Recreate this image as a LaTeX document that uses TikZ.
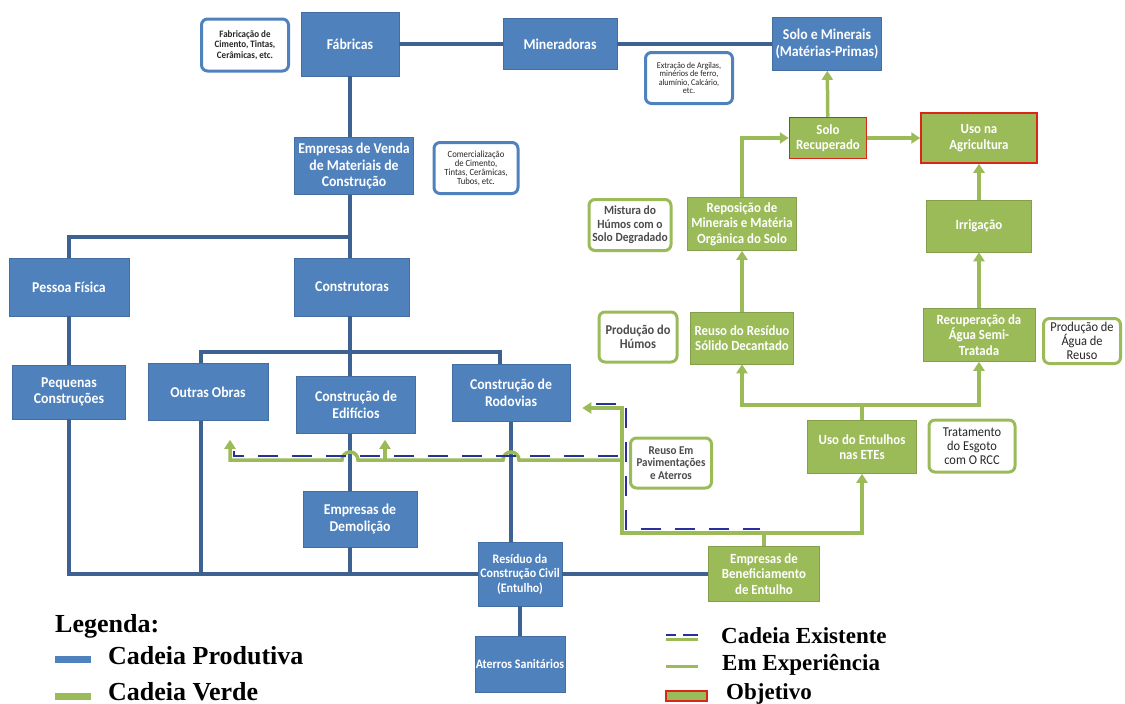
\documentclass[tikz,border=0pt]{standalone}
\usepackage{fontspec}
\setmainfont{Liberation Serif}
\newfontfamily\calib[FakeStretch=0.92]{Carlito}
\usepackage{tikz}
\usetikzlibrary{calc}
\usetikzlibrary{arrows.meta}
\usepackage{xcolor}
\definecolor{azul}{HTML}{4F81BD}
\definecolor{azulesc}{HTML}{3D6190}
\definecolor{verde}{HTML}{9BBB59}
\definecolor{marinho}{HTML}{28309A}
\definecolor{vermelho}{HTML}{D9251A}

\begin{document}
\begin{tikzpicture}[x=1pt, y=-1pt,
  prod/.style = {rectangle, fill=azul, draw=azul!85!black, line width=.6pt, text=white, align=center, inner sep=1pt, font=\calib\bfseries\fontsize{15}{16.5}\selectfont},
  verd/.style = {prod, fill=verde, draw=verde!85!black, font=\calib\bfseries\fontsize{14}{15.5}\selectfont},
  objetivo/.style = {verd, draw=vermelho, line width=1.5pt},
  notaaz/.style = {rectangle, rounded corners=6pt, draw=azul, line width=3pt, fill=white, text=black!85, align=center, inner sep=1pt, font=\calib\bfseries\fontsize{9.8}{10.5}\selectfont},
  notave/.style = {notaaz, draw=verde, text=black!70, font=\calib\bfseries\fontsize{13.5}{14}\selectfont},
  linha/.style = {azulesc, line width=4pt},
  fluxo/.style = {verde, line width=3.5pt},
  seta/.style = {fluxo, -{Triangle[length=9pt, width=11pt]}},
  existe/.style = {marinho, line width=2pt, dash pattern=on 20pt off 14pt},
  leg/.style = {anchor=base west, inner sep=0pt, font=\bfseries\fontsize{26}{28}\selectfont},
  legd/.style = {leg, font=\bfseries\fontsize{23}{25}\selectfont}
]

\useasboundingbox (0,0) rectangle (1125,704);

\node[prod, minimum width=98pt, minimum height=64pt] (fabricas) at (350,44) {Fábricas};
\node[prod, minimum width=114pt, minimum height=51pt] (mineradoras) at (560,44) {Mineradoras};
\node[prod, minimum width=109pt, minimum height=53pt] (solo) at (827,44) {Solo e Minerais\\(Matérias-Primas)};
\node[prod, minimum width=119pt, minimum height=57pt] (venda) at (354,166) {Empresas de Venda\\de Materiais de\\Construção};
\node[prod, minimum width=120pt, minimum height=58pt] (pessoa) at (69,287) {Pessoa Física};
\node[prod, minimum width=115pt, minimum height=58pt] (construtoras) at (352,287) {Construtoras};
\node[prod, minimum width=113pt, minimum height=54pt] (pequenas) at (69,392) {Pequenas\\Construções};
\node[prod, minimum width=120pt, minimum height=57pt] (outras) at (208,392) {Outras Obras};
\node[prod, minimum width=119pt, minimum height=57pt] (edificios) at (356,405) {Construção de\\Edifícios};
\node[prod, minimum width=118pt, minimum height=57pt] (rodovias) at (511,393) {Construção de\\Rodovias};
\node[prod, minimum width=114pt, minimum height=56pt] (demolicao) at (360,519) {Empresas de\\Demolição};
\node[prod, minimum width=84pt, minimum height=64pt, font=\calib\bfseries\fontsize{13}{14.5}\selectfont] (residuo) at (520,574) {Resíduo da\\Construção Civil\\(Entulho)};
\node[prod, minimum width=84pt, minimum height=56pt, font=\calib\bfseries\fontsize{13}{14.5}\selectfont] (aterros) at (520,664) {Aterros Sanitários};

\node[objetivo, minimum width=77pt, minimum height=41pt] (recuperado) at (828,138) {Solo\\Recuperado};
\node[objetivo, minimum width=116pt, minimum height=50pt] (agricultura) at (979,138) {Uso na\\Agricultura};
\node[verd, minimum width=105pt, minimum height=52pt] (irrigacao) at (979,226) {Irrigação};
\node[verd, minimum width=109pt, minimum height=53pt] (reposicao) at (742,224) {Reposição de\\Minerais e Matéria\\Orgânica do Solo};
\node[verd, minimum width=103pt, minimum height=52pt] (reuso) at (742,338) {Reuso do Resíduo\\Sólido Decantado};
\node[verd, minimum width=112pt, minimum height=53pt] (agua) at (979,335) {Recuperação da\\Água Semi-\\Tratada};
\node[verd, minimum width=109pt, minimum height=53pt] (entulhos) at (862,447) {Uso do Entulhos\\nas ETEs};
\node[verd, minimum width=111pt, minimum height=55pt] (beneficiamento) at (764,574) {Empresas de\\Beneficiamento\\de Entulho};

\node[notaaz, minimum width=87pt, minimum height=52pt] (fabnota) at (245,45) {Fabricação de\\Cimento, Tintas,\\Cerâmicas, etc.};
\node[notaaz, minimum width=87pt, minimum height=51pt, font=\calib\fontsize{8.8}{8.6}\selectfont] (extnota) at (689,78) {Extração de Argilas,\\minérios de ferro,\\alumínio, Calcário,\\etc.};
\node[notaaz, minimum width=84pt, minimum height=51pt, font=\calib\fontsize{9.4}{9}\selectfont] (comnota) at (476,168) {Comercialização\\de Cimento,\\Tintas, Cerâmicas,\\Tubos, etc.};

\node[notave, minimum width=82pt, minimum height=51pt, font=\calib\bfseries\fontsize{12.5}{13.5}\selectfont] (mistura) at (630,225) {Mistura do\\Húmos com o\\Solo Degradado};
\node[notave, minimum width=78pt, minimum height=50pt] (humos) at (638,337) {Produção do\\Húmos};
\node[notave, minimum width=77pt, minimum height=45pt, text=black!85, font=\calib\fontsize{13.5}{14}\selectfont] (aguanota) at (1082,341) {Produção de\\Água de\\Reuso};
\node[notave, minimum width=86pt, minimum height=52pt, text=black!85, font=\calib\fontsize{13.5}{14}\selectfont] (tratamento) at (972,446) {Tratamento\\do Esgoto\\com O RCC};
\node[notave, minimum width=81pt, minimum height=50pt, font=\calib\bfseries\fontsize{12}{12.5}\selectfont] (pavim) at (671,463) {Reuso Em\\Pavimentações\\e Aterros};

\draw[linha] (fabricas) -- (mineradoras);
\draw[linha] (mineradoras) -- (solo);
\draw[linha] (fabricas) -- (fabricas |- venda.north);
\coordinate (c1) at (350,237);
\coordinate (c2) at (201,352);
\coordinate (c3) at (500,352);
\draw[linha] (venda.south -| c1) -- (construtoras.north -| c1);
\draw[linha] (c1) -| (pessoa.north);
\draw[linha] (pessoa) -- (pequenas);
\draw[linha] (construtoras.south -| c1) -- (edificios.north -| c1);
\draw[linha] (outras.north -| c2) -- (c2) -- (c3) -- (rodovias.north -| c3);
\draw[linha] (pequenas) |- (residuo);
\draw[linha] (outras.south -| c2) -- (c2 |- residuo);
\draw[linha] (edificios.south -| c1) -- (demolicao.north -| c1);
\draw[linha] (demolicao.south -| c1) -- (c1 |- residuo);
\draw[linha] (rodovias) -- (rodovias |- residuo.north);
\draw[linha] (residuo) -- (beneficiamento);
\draw[linha] (residuo) -- (aterros);

\draw[seta] (recuperado) -- (solo);
\draw[seta] (recuperado) -- (agricultura);
\draw[seta] (irrigacao) -- (agricultura);
\draw[seta] (agua) -- (irrigacao);
\draw[seta] (reposicao) |- (recuperado);
\draw[seta] (reuso) -- (reposicao);
\coordinate (g1) at (862,405);
\draw[fluxo] (entulhos) -- (g1);
\draw[seta] (g1) -| (reuso);
\draw[seta] (g1) -| (agua);

\coordinate (g2) at (622,533);
\coordinate (g3) at (862,533);
\coordinate (g4) at (622,408);
\coordinate (g5) at (622,460);
\coordinate (g6) at (385,460);
\coordinate (g7) at (230,460);
\draw[seta] (beneficiamento) |- (g3) -- (entulhos);
\draw[seta, shorten >=12pt] (beneficiamento) |- (g2) -- (g4) -- (g4 -| rodovias.east);
\draw[seta, shorten >=19pt] (g5) -- ($(rodovias |- g5)+(8,0)$) arc[start angle=0, end angle=180, radius=8pt] -- ($(c1 |- g5)+(8,0)$) arc[start angle=0, end angle=180, radius=8pt] -- (g7) -- (g7 |- outras.south);
\draw[seta, shorten >=6pt] (g6) -- (g6 |- edificios.south);

\draw[existe] ($(g4)+(-26,-4)$) -| ($(g2)+(4,-4)$) -- ++(134,0);
\draw[existe] ($(g5)+(-4,-4)$) -- ($(g7)+(4,-4)$) -- ++(0,-5);

\node[leg] (legenda) at (55,632) {Legenda:};
\fill[azul] (55,656) rectangle (91,663);
\node[leg] (produtiva) at (108,664) {Cadeia Produtiva};
\fill[verde] (55,693) rectangle (91,700);
\node[leg] (verdeleg) at (108,700) {Cadeia Verde};

\draw[verde, line width=3pt] (666,639) -- (698,639);
\draw[marinho, line width=2pt] (666,635) -- (676,635) (683,635) -- (698,635);
\node[legd] (existente) at (721,643) {Cadeia Existente};
\draw[verde, line width=3pt] (666,666) -- (698,666);
\node[legd] (experiencia) at (722,670) {Em Experiência};
\draw[fill=verde, draw=vermelho, line width=1.5pt] (666,691) rectangle (707,701);
\node[legd] (objleg) at (726,699) {Objetivo};

\end{tikzpicture}
\end{document}
